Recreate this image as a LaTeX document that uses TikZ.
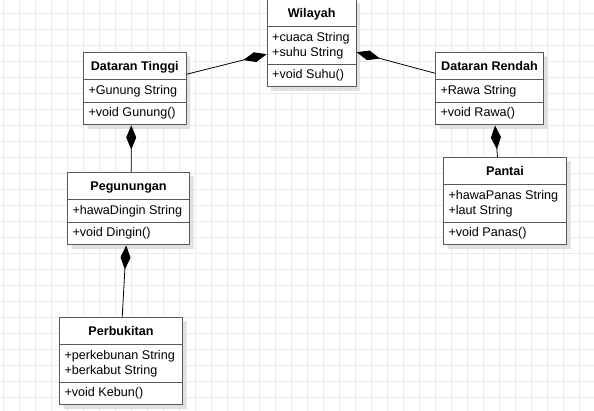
\documentclass[tikz,border=0pt]{standalone}
\usepackage{fontspec}
\setmainfont{Liberation Sans}
\usetikzlibrary{arrows.meta,shapes.multipart,shadows}
% class name in the header part
\newcommand{\clsname}[1]{\textbf{#1}\rule[-3pt]{0pt}{16pt}}

\begin{document}
\begin{tikzpicture}[x=1pt,y=-1pt,
	class/.style={rectangle split, rectangle split parts=3, rectangle split part align={center,left,left},
		draw=black!65, line width=1pt, fill=white,
		font=\fontsize{12.6}{15}\selectfont, align=left, inner xsep=5pt, inner ysep=5pt, anchor=north west,
		drop shadow={shadow xshift=4pt, shadow yshift=-4pt, fill=black!12, opacity=1}},
	comp/.style={-{Diamond[length=24pt,width=10pt]}, line width=0.8pt},
	gridline/.style={black!8, line width=0.8pt}]
	\useasboundingbox (0,0) rectangle (594,411);
	% background grid
	\foreach \x in {3,19,...,595} \draw[gridline] (\x,0) -- (\x,411);
	\foreach \y in {13,29,...,413} \draw[gridline] (0,\y) -- (594,\y);

	\node[class, minimum width=89pt]    (wil) at (266.7,-1) {\clsname{Wilayah}
		\nodepart{two} +cuaca String\\+suhu String \nodepart{three} +void Suhu()};
	\node[class, minimum width=102.5pt] (dt)  at (83,52)    {\clsname{Dataran Tinggi}
		\nodepart{two} +Gunung String \nodepart{three} +void Gunung()};
	\node[class, minimum width=108pt]   (dr)  at (435,52)   {\clsname{Dataran Rendah}
		\nodepart{two} +Rawa String \nodepart{three} +void Rawa()};
	\node[class, minimum width=122pt]   (peg) at (67,172)   {\clsname{Pegunungan}
		\nodepart{two} +hawaDingin String \nodepart{three} +void Dingin()};
	\node[class, minimum width=123pt]   (pan) at (443,157)  {\clsname{Pantai}
		\nodepart{two} +hawaPanas String\\+laut String \nodepart{three} +void Panas()};
	\node[class, minimum width=123pt]   (per) at (59,317)   {\clsname{Perbukitan}
		\nodepart{two} +perkebunan String\\+berkabut String \nodepart{three} +void Kebun()};

	\path[comp] ([yshift=14.5pt]dt.east)  edge ([yshift=-11pt]wil.west);
	\path[comp] ([yshift=15.5pt]dr.west)  edge ([yshift=-9pt]wil.east);
	\path[comp] ([xshift=2.7pt]peg.north) edge ([xshift=-3.5pt]dt.south);
	\path[comp] ([xshift=-7.5pt]pan.north) edge ([xshift=5.5pt]dr.south);
	\path[comp] ([xshift=1.2pt]per.north) edge ([xshift=-2.3pt]peg.south);
\end{tikzpicture}
\end{document}
